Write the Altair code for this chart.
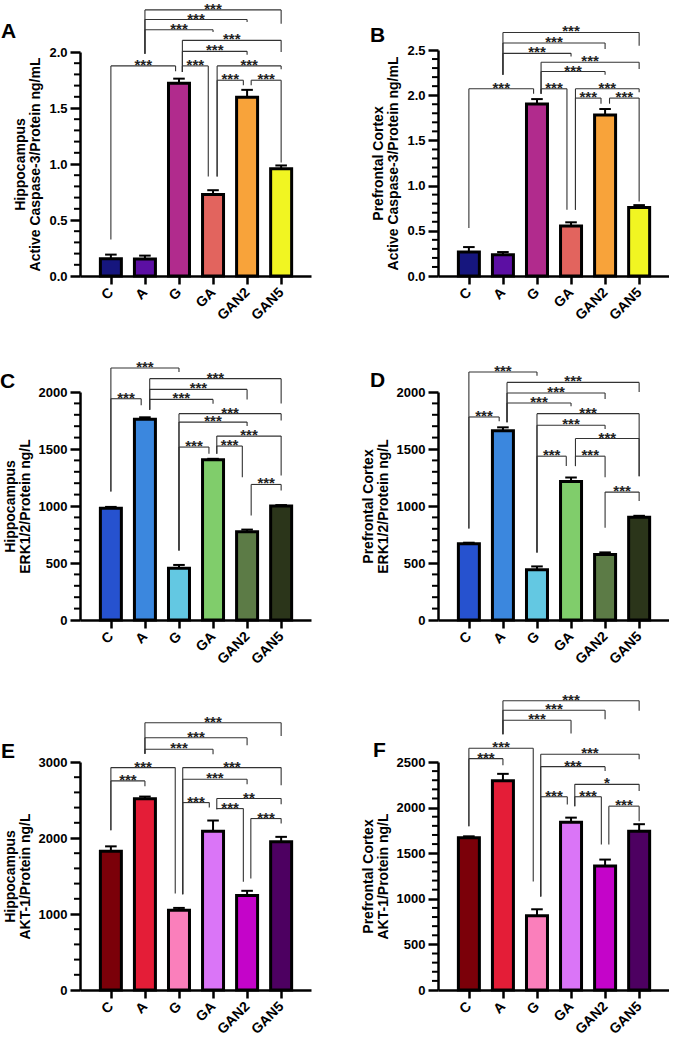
import altair as alt
import pandas as pd

FONT = "Liberation Sans"
GROUPS = ["C", "A", "G", "GA", "GAN2", "GAN5"]
X_DOMAIN = [-0.76, 5.73]

# ---- group means and SEM -------------------------------------------------
casp_hip_mean = [0.155, 0.152, 1.720, 0.728, 1.597, 0.957]
casp_hip_sem = [0.036, 0.030, 0.042, 0.038, 0.065, 0.030]
casp_pfc_mean = [0.265, 0.235, 1.902, 0.553, 1.781, 0.758]
casp_pfc_sem = [0.055, 0.030, 0.055, 0.041, 0.066, 0.026]
erk_hip_mean = [980, 1760, 455, 1405, 775, 1000]
erk_hip_sem = [12, 18, 28, 9, 18, 8]
erk_pfc_mean = [668, 1660, 440, 1215, 575, 902]
erk_pfc_sem = [10, 30, 30, 35, 18, 12]
akt_hip_mean = [1825, 2515, 1050, 2090, 1245, 1950]
akt_hip_sem = [65, 30, 30, 140, 60, 65]
akt_pfc_mean = [1670, 2295, 815, 1840, 1360, 1740]
akt_pfc_sem = [15, 75, 70, 50, 70, 78]

# ---- bar fills -----------------------------------------------------------
casp_colors = ["#16167e", "#5c0fa3", "#b12b8d", "#e2645e", "#f8a33a", "#f1f522"]
erk_colors = ["#2652cf", "#3b87de", "#63c8e2", "#80cd6b", "#5c7b46", "#2b351a"]
akt_colors = ["#7b0009", "#e41d37", "#fa7fbb", "#da75f7", "#c404c9", "#4d0061"]

# ---- significance brackets ----------------------------------------------
# (group i, group j, bracket height, left leg end, right leg end, label,
#  left leg shift, right leg shift)  -- shifts in group units
casp_hip_brackets = [
    (0, 2, 1.876, 0.326, 1.828, "***", 0, -0.10),
    (1, 3, 2.199, 1.985, 2.178, "***", 0, 0),
    (1, 4, 2.290, 1.985, 2.267, "***", 0, 0),
    (1, 5, 2.376, 1.985, 2.252, "***", 0, 0),
    (2, 3, 1.876, 1.822, 0.889, "***", 0.10, -0.14),
    (2, 4, 2.006, 1.822, 1.976, "***", 0.10, 0),
    (2, 5, 2.104, 1.822, 2.000, "***", 0.10, 0),
    (3, 5, 1.876, 0.889, 1.846, "***", 0.12, 0),
    (3, 4, 1.748, 0.889, 1.704, "***", 0.12, -0.11),
    (4, 5, 1.748, 1.704, 1.013, "***", 0.12, 0),
]
casp_pfc_brackets = [
    (0, 2, 2.071, 0.532, 2.016, "***", 0, -0.10),
    (1, 3, 2.463, 2.225, 2.427, "***", 0, 0),
    (1, 4, 2.577, 2.225, 2.511, "***", 0, 0),
    (1, 5, 2.694, 2.225, 2.548, "***", 0, 0),
    (2, 3, 2.071, 2.016, 0.733, "***", 0.12, -0.12),
    (2, 4, 2.262, 2.016, 2.225, "***", 0.12, 0),
    (2, 5, 2.364, 2.016, 2.291, "***", 0.12, 0),
    (3, 5, 2.071, 0.733, 2.034, "***", 0.13, 0),
    (3, 4, 1.968, 0.733, 1.906, "***", 0.13, -0.12),
    (4, 5, 1.968, 1.906, 0.825, "***", 0.13, 0),
]
erk_hip_brackets = [
    (0, 2, 2211, 1127, 2175, "***", 0, 0),
    (0, 1, 1941, 1127, 1883, "***", 0, -0.11),
    (1, 3, 1935, 1845, 1897, "***", 0.14, 0),
    (1, 4, 2023, 1845, 1935, "***", 0.14, 0),
    (1, 5, 2117, 1845, 1900, "***", 0.14, 0),
    (2, 3, 1517, 609, 1458, "***", 0, -0.12),
    (2, 4, 1736, 609, 1701, "***", 0, 0),
    (2, 5, 1810, 609, 1750, "***", 0, 0),
    (3, 5, 1613, 1458, 1268, "***", 0.11, 0),
    (3, 4, 1526, 1458, 1253, "***", 0.11, -0.14),
    (4, 5, 1189, 917, 1136, "***", 0.12, 0),
]
erk_pfc_brackets = [
    (0, 2, 2175, 802, 2143, "***", 0, 0),
    (0, 1, 1781, 802, 1743, "***", 0, -0.11),
    (1, 3, 1903, 1734, 1874, "***", 0.12, 0),
    (1, 4, 1991, 1734, 1938, "***", 0.12, 0),
    (1, 5, 2084, 1734, 2000, "***", 0.12, 0),
    (2, 5, 1810, 592, 1262, "***", 0, 0),
    (2, 4, 1708, 592, 1676, "***", 0, 0),
    (2, 3, 1437, 592, 1350, "***", 0, -0.14),
    (3, 5, 1592, 1350, 1262, "***", 0.13, 0),
    (3, 4, 1437, 1350, 1253, "***", 0.13, 0),
    (4, 5, 1122, 810, 1044, "***", 0, 0),
]
akt_hip_brackets = [
    (0, 1, 2751, 2102, 2681, "***", 0, 0),
    (0, 2, 2926, 2102, 1270, "***", 0, -0.11),
    (1, 3, 3167, 3110, 3101, "***", 0, 0),
    (1, 4, 3320, 3110, 3219, "***", 0, 0),
    (1, 5, 3517, 3110, 3342, "***", 0, 0),
    (2, 5, 2926, 1261, 2694, "***", 0.11, 0),
    (2, 4, 2773, 1261, 2707, "***", 0.11, 0),
    (2, 3, 2466, 1261, 2400, "***", 0.11, -0.11),
    (3, 5, 2519, 2378, 2444, "**", 0.11, 0),
    (3, 4, 2387, 2378, 1424, "***", 0.11, -0.11),
    (4, 5, 2256, 1467, 2190, "***", 0.11, 0),
]
akt_pfc_brackets = [
    (0, 1, 2537, 1796, 2464, "***", 0, 0),
    (0, 2, 2650, 1796, 1191, "***", 0, -0.11),
    (1, 3, 2958, 2804, 2812, "***", 0, 0),
    (1, 4, 3068, 2804, 2969, "***", 0, 0),
    (1, 5, 3171, 2804, 3061, "***", 0, 0),
    (2, 5, 2585, 1026, 2530, "***", 0.11, 0),
    (2, 4, 2449, 1026, 2401, "***", 0.11, 0),
    (2, 3, 2119, 1026, 2035, "***", 0.11, -0.11),
    (3, 5, 2255, 2016, 2181, "*", 0.11, 0),
    (3, 4, 2119, 2016, 1595, "***", 0.11, -0.11),
    (4, 5, 2016, 1595, 1851, "***", 0.11, 0),
]

PANEL_W = 231


def build_panel(letter, letter_pos, means, sems, colors, brackets, y_max,
                y_major, y_minor_step, y_format, y_title, height, y_range):
    xs = alt.Scale(domain=X_DOMAIN, nice=False, zero=False)
    ys = alt.Scale(domain=[0, y_max], nice=False, zero=True, range=y_range)

    label_expr = "[" + ",".join("'%s'" % g for g in GROUPS) + "][datum.value]"
    x_axis = alt.Axis(values=list(range(len(GROUPS))), labelExpr=label_expr,
                      labelAngle=-45, labelAlign="right", labelBaseline="middle",
                      labelOverlap=False, labelFlush=False, title=None,
                      labelPadding=6, tickSize=8, labelFontSize=14)
    y_axis = alt.Axis(values=y_major, format=y_format, title=y_title,
                      titlePadding=6, titleLineHeight=15, labelFlush=False,
                      labelOverlap=False, labelPadding=3, tickSize=10)

    def X(field):
        return alt.X(field, scale=xs, axis=x_axis)

    def Y(field):
        return alt.Y(field, scale=ys, axis=y_axis)

    bars = pd.DataFrame({
        "pos": list(range(len(GROUPS))),
        "group": GROUPS,
        "mean": means,
        "sem": sems,
        "color": colors,
    })
    bars["top"] = bars["mean"] + bars["sem"]
    base = alt.Chart(bars)

    bar_layer = base.mark_bar(orient="vertical", size=21, stroke="black",
                              strokeWidth=3).encode(
        x=X("pos:Q"),
        y=Y("mean:Q"),
        y2=alt.datum(0),
        fill=alt.Fill("color:N", scale=None),
    )
    stem = base.mark_rule(color="black", strokeWidth=2).encode(
        x=X("pos:Q"),
        y=Y("mean:Q"),
        y2="top:Q",
    )
    cap = base.transform_calculate(
        xa="datum.pos - 0.17", xb="datum.pos + 0.17"
    ).mark_rule(color="black", strokeWidth=2).encode(
        x=X("xa:Q"),
        x2="xb:Q",
        y=Y("top:Q"),
    )

    # minor ticks on the value axis
    n_minor = int(round(y_max / y_minor_step))
    minor_vals = [k * y_minor_step for k in range(n_minor + 1)
                  if all(abs(k * y_minor_step - m) > 1e-9 for m in y_major)]
    minor = alt.Chart(pd.DataFrame({"v": minor_vals})).mark_rule(
        color="black", strokeWidth=2).encode(
        y=Y("v:Q"),
        x=alt.value(0),
        x2=alt.value(-6),
    )

    segs, labs = [], []
    for i, j, h, e1, e2, lab, o1, o2 in brackets:
        x1, x2 = i + o1, j + o2
        segs.append({"x": x1, "x2": x2, "y": h, "y2": h})
        segs.append({"x": x1, "x2": x1, "y": h, "y2": e1})
        segs.append({"x": x2, "x2": x2, "y": h, "y2": e2})
        labs.append({"x": (x1 + x2) / 2, "y": h, "label": lab})

    brk = alt.Chart(pd.DataFrame(segs)).mark_rule(
        color="#333333", strokeWidth=1.1).encode(
        x=X("x:Q"),
        x2="x2:Q",
        y=Y("y:Q"),
        y2="y2:Q",
    )
    brk_text = alt.Chart(pd.DataFrame(labs)).mark_text(
        font=FONT, fontSize=15, fontWeight="bold", color="#222222",
        baseline="alphabetic", dy=4).encode(
        x=X("x:Q"),
        y=Y("y:Q"),
        text="label:N",
    )

    tag = alt.Chart(pd.DataFrame({"letter": [letter]})).mark_text(
        font=FONT, fontSize=21, fontWeight="bold", color="black",
        align="left", baseline="alphabetic").encode(
        x=alt.value(letter_pos[0]),
        y=alt.value(letter_pos[1]),
        text="letter:N",
    )

    return alt.layer(bar_layer, stem, cap, minor, brk, brk_text, tag).properties(
        width=PANEL_W, height=height)


panel_a = build_panel("A", (-79, -12.5), casp_hip_mean, casp_hip_sem, casp_colors,
                      casp_hip_brackets, 2.0, [0, 0.5, 1.0, 1.5, 2.0], 0.1, ".1f",
                      ["Hippocampus", "Active Caspase-3/Protein ng/mL"], 226, [226, 2])
panel_b = build_panel("B", (-68, -8), casp_pfc_mean, casp_pfc_sem, casp_colors,
                      casp_pfc_brackets, 2.5, [0, 0.5, 1.0, 1.5, 2.0, 2.5], 0.1, ".1f",
                      ["Prefrontal Cortex", "Active Caspase-3/Protein ng/mL"], 226, [226, 0])
panel_c = build_panel("C", (-80, -4.5), erk_hip_mean, erk_hip_sem, erk_colors,
                      erk_hip_brackets, 2000, [0, 500, 1000, 1500, 2000], 100, "d",
                      ["Hippocampus", "ERK1/2/Protein ng/L"], 228, [228, 0])
panel_d = build_panel("D", (-68, -5.5), erk_pfc_mean, erk_pfc_sem, erk_colors,
                      erk_pfc_brackets, 2000, [0, 500, 1000, 1500, 2000], 100, "d",
                      ["Prefrontal Cortex", "ERK1/2/Protein ng/L"], 228, [228, 0])
panel_e = build_panel("E", (-79, 22), akt_hip_mean, akt_hip_sem, akt_colors,
                      akt_hip_brackets, 3000, [0, 1000, 2000, 3000], 200, "d",
                      ["Hippocampus", "AKT-1/Protein ng/L"], 254, [254, 26])
panel_f = build_panel("F", (-65, 21), akt_pfc_mean, akt_pfc_sem, akt_colors,
                      akt_pfc_brackets, 2500, [0, 500, 1000, 1500, 2000, 2500], 100, "d",
                      ["Prefrontal Cortex", "AKT-1/Protein ng/L"], 254, [254, 26])

chart = alt.concat(
    panel_a, panel_b, panel_c, panel_d, panel_e, panel_f,
    columns=2, spacing={"row": 116, "column": 127}, bounds="flush",
).properties(
    padding={"left": 0, "top": 1, "right": 0, "bottom": 0},
).configure_view(stroke=None).configure_axis(
    domainColor="black", domainWidth=2.5, tickColor="black", tickWidth=2.5,
    labelFont=FONT, labelFontSize=13, labelFontWeight="bold",
    labelColor="black", titleFont=FONT, titleFontSize=14, titleFontWeight="bold",
    titleColor="black", grid=False,
)

chart.save("out.html", embed_options={"renderer": "svg", "actions": False})
